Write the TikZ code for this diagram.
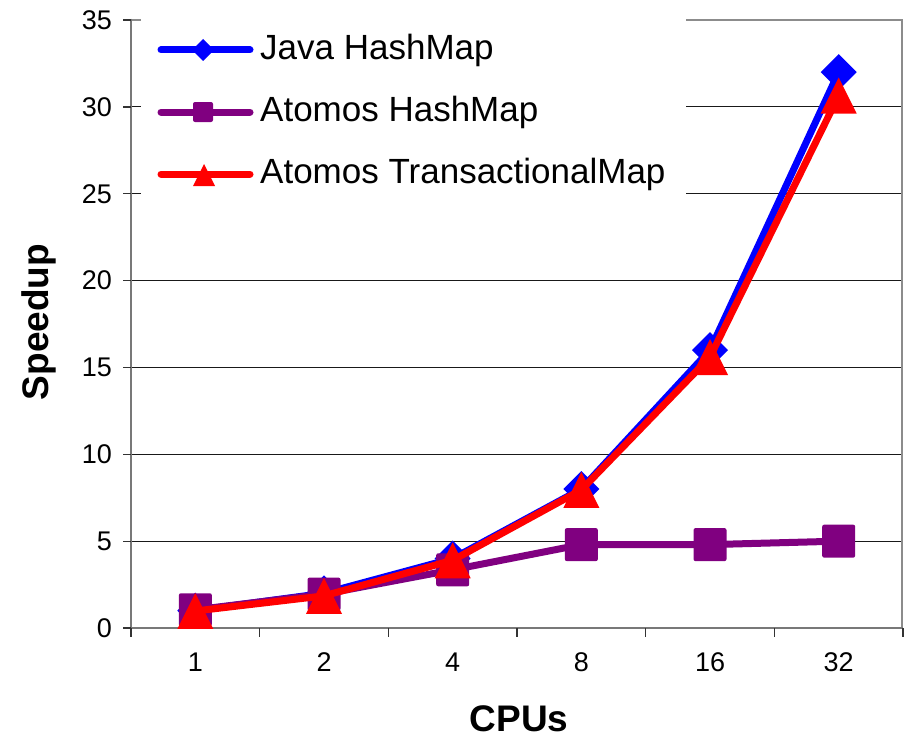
\documentclass[tikz,border=0pt]{standalone}
\usepackage{fontspec}
\setmainfont{Liberation Sans}
\definecolor{jblue}{RGB}{0,0,255}
\definecolor{apurple}{RGB}{128,0,128}
\definecolor{tred}{RGB}{255,0,0}
\definecolor{axgray}{RGB}{120,120,120}
\begin{document}
\begin{tikzpicture}[x=1bp,y=-1bp,
  series/.style={line width=7bp, line join=round, line cap=round},
  grid line/.style={line width=1.1bp, black!90},
  axis line/.style={line width=2.6bp, axgray},
  frame line/.style={line width=2.6bp, black!45},
  ticklab/.style={font=\fontsize{27bp}{30bp}\selectfont, inner sep=0pt},
  leglab/.style={font=\fontsize{35bp}{40bp}\selectfont, inner sep=0pt, anchor=west},
  axlab/.style={font=\fontsize{37bp}{42bp}\selectfont\bfseries, inner sep=0pt},
  pics/dmd/.style={code={\fill (-#1,0)--(0,-#1)--(#1,0)--(0,#1)--cycle;}},
  pics/sqr/.style={code={\fill[rounded corners=2bp] (-#1,-#1) rectangle (#1,#1);}},
  pics/tri/.style={code={\fill (-#1,#1)--(#1,#1)--(0,-#1)--cycle;}}
]
\useasboundingbox (0,0) rectangle (904,739);
\fill[white] (0,0) rectangle (904,739);

% gridlines
\foreach \g in {5,10,...,30}
  \draw[grid line] (131,{628-17.371*\g}) -- (902,{628-17.371*\g});

% frame
\draw[frame line] (131,20) -- (902,20) -- (902,628);

% legend box (covers gridlines)
\fill[white] (141,4) rectangle (686,218);

% axes
\draw[axis line] (131,18.7) -- (131,628) -- (903.3,628);
\foreach \g in {0,5,...,35}
  \draw[line width=1.3bp, black!80] (123,{628-17.371*\g}) -- (131,{628-17.371*\g});
\foreach \k in {0,...,6}
  \draw[line width=1.3bp, black!80] ({131+128.67*\k},628) -- ({131+128.67*\k},637);

% y tick labels
\foreach \g in {0,5,...,35}
  \node[ticklab, anchor=east] (yl\g) at (112,{628-17.371*\g}) {\g};
% x tick labels
\foreach \c [count=\i from 0] in {1,2,4,8,16,32}
  \node[ticklab] (xl\i) at ({131+128.67*(\i+0.5)},662.5) {\c};

% axis titles
\node[axlab] (xt) at (519,719) {CPUs};
\node[axlab, rotate=90] (yt) at (39,322) {Speedup};

% data coordinates
\foreach \v [count=\i from 0] in {1,2,4,8,16,32}
  \coordinate (J\i) at ({131+128.67*(\i+0.5)},{628-17.371*\v});
\foreach \v [count=\i from 0] in {1.05,1.95,3.35,4.8,4.8,5.0}
  \coordinate (A\i) at ({131+128.67*(\i+0.5)},{628-17.371*\v});
\foreach \v [count=\i from 0] in {0.98,1.85,3.9,7.95,15.6,30.65}
  \coordinate (T\i) at ({131+128.67*(\i+0.5)},{628-17.371*\v});

% Java HashMap
\draw[series, jblue] (J0)--(J1)--(J2)--(J3)--(J4)--(J5);
\foreach \i in {0,...,5} \pic[jblue] at (J\i) {dmd=18};
% Atomos HashMap
\draw[series, apurple] (A0)--(A1)--(A2)--(A3)--(A4)--(A5);
\foreach \i in {0,...,5} \pic[apurple] at (A\i) {sqr=16.5};
% Atomos TransactionalMap
\draw[series, tred] (T0)--(T1)--(T2)--(T3)--(T4)--(T5);
\foreach \i in {0,...,5} \pic[tred] at (T\i) {tri=18};

% legend
\coordinate (L1a) at (161,50); \coordinate (L1b) at (250,50);
\coordinate (L2a) at (161,112); \coordinate (L2b) at (250,112);
\coordinate (L3a) at (161,174); \coordinate (L3b) at (250,174);
\draw[series, jblue] (L1a) -- (L1b);
\pic[jblue] at (203,50) {dmd=11};
\node[leglab] (lg1) at (260,50) {Java HashMap};
\draw[series, apurple] (L2a) -- (L2b);
\pic[apurple] at (203,112) {sqr=10};
\node[leglab] (lg2) at (260,112) {Atomos HashMap};
\draw[series, tred] (L3a) -- (L3b);
\pic[tred] at (204,175) {tri=11};
\node[leglab] (lg3) at (260,174) {Atomos TransactionalMap};
\end{tikzpicture}
\end{document}
